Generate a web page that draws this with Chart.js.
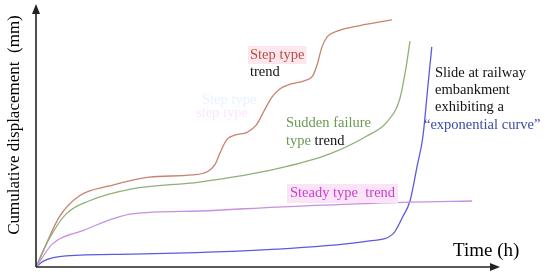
<!DOCTYPE html>
<html>
<head>
<meta charset="utf-8">
<style>
html,body{margin:0;padding:0;background:#fff;}
</style>
<script src="https://cdn.jsdelivr.net/npm/chart.js@4.4.1/dist/chart.umd.min.js"></script>
</head>
<body>
<canvas id="c" width="550" height="275"></canvas>
<script>
// Time (h) on x, cumulative displacement (mm) on y, both in relative units 0-100
const stepX = [0, 1.7, 5.0, 9.3, 15.8, 24.4, 33.7, 37.0, 38.6, 39.8, 41.2, 43.0, 45.5, 47.5, 49.2, 50.8, 52.6, 55.0, 57.8, 59.6, 60.6, 61.6, 62.8, 64.8, 69.8, 76.7];
const stepY = [0, 6.8, 19.0, 27.0, 30.8, 34.2, 35.0, 36.3, 39.0, 44.0, 48.6, 50.2, 51.2, 54.0, 59.5, 64.5, 67.8, 69.6, 70.8, 72.6, 77.0, 83.5, 87.6, 89.6, 91.8, 94.0];
const suddenX = [0, 2.8, 6.5, 11.4, 20.7, 35.2, 51.8, 63.3, 71.3, 75.6, 78.4, 79.7, 80.6];
const suddenY = [0, 10.6, 20.2, 25.1, 29.7, 32.3, 37.3, 43.0, 49.8, 55.1, 63.9, 75.3, 85.9];
const steadyX = [0, 3.5, 9.9, 20.7, 35.2, 51.8, 80.6, 94.0];
const steadyY = [0, 8.7, 13.7, 20.2, 21.3, 22.8, 24.7, 25.1];
const expoX = [0, 1.7, 6.5, 20.7, 51.8, 71.9, 76.9, 79.0, 80.6, 82.1, 83.4, 84.4, 85.3];
const expoY = [0, 2.3, 4.2, 4.9, 6.8, 9.9, 12.5, 19.0, 25.1, 38.0, 49.8, 67.7, 83.7];

const xTitle = 'Time (h)';
const yTitle = 'Cumulative displacement  (mm)';

function pts(xs, ys){ return xs.map((x,i)=>({x:x, y:ys[i]})); }

const FONT_XTITLE = '19px "Liberation Serif"';
const FONT_YTITLE = '17px "Liberation Serif"';
const FONT_LABEL = '14.5px "Liberation Serif"';

const axesPlugin = {
  id: 'axesArrows',
  afterDatasetsDraw(chart){
    const ctx = chart.ctx, a = chart.chartArea;
    ctx.save();
    ctx.strokeStyle = '#222'; ctx.fillStyle = '#222'; ctx.lineWidth = 1.6;
    ctx.beginPath(); ctx.moveTo(a.left, a.bottom); ctx.lineTo(a.left, a.top + 6); ctx.stroke();
    ctx.beginPath(); ctx.moveTo(a.left, a.top); ctx.lineTo(a.left - 4, a.top + 10); ctx.lineTo(a.left + 4, a.top + 10); ctx.closePath(); ctx.fill();
    ctx.beginPath(); ctx.moveTo(a.left, a.bottom); ctx.lineTo(a.right - 6, a.bottom); ctx.stroke();
    ctx.beginPath(); ctx.moveTo(a.right, a.bottom); ctx.lineTo(a.right - 10, a.bottom - 4); ctx.lineTo(a.right - 10, a.bottom + 4); ctx.closePath(); ctx.fill();
    ctx.fillStyle = '#000';
    ctx.font = FONT_XTITLE;
    ctx.textBaseline = 'middle';
    ctx.textAlign = 'left';
    ctx.fillText(xTitle, 453, 251);
    ctx.font = FONT_YTITLE;
    ctx.translate(15, 125);
    ctx.rotate(-Math.PI/2);
    ctx.textAlign = 'center';
    ctx.fillText(yTitle, 0, 0);
    ctx.restore();
  }
};

const labelPlugin = {
  id: 'annotTexts',
  afterDatasetsDraw(chart){
    const ctx = chart.ctx;
    ctx.save();
    ctx.font = FONT_LABEL;
    ctx.textBaseline = 'middle';
    ctx.textAlign = 'left';
    ctx.fillStyle = 'rgba(190,225,255,0.4)';
    ctx.fillText('Step type', 202, 100);
    ctx.fillStyle = 'rgba(235,185,245,0.35)';
    ctx.fillText('step type', 196, 113);
    let w = ctx.measureText('Step type').width;
    ctx.fillStyle = '#fde6ee';
    ctx.fillRect(248, 46, w + 4, 18);
    ctx.fillStyle = '#b4503f';
    ctx.fillText('Step type', 250, 55);
    ctx.fillStyle = '#111';
    ctx.fillText('trend', 250, 72);
    ctx.fillStyle = '#6c9a52';
    ctx.fillText('Sudden failure', 286, 123);
    ctx.fillText('type', 286, 141);
    const tw = ctx.measureText('type ').width;
    ctx.fillStyle = '#111';
    ctx.fillText('trend', 286 + tw, 141);
    w = ctx.measureText('Steady type  trend').width;
    ctx.fillStyle = '#fce4f8';
    ctx.fillRect(287, 184, w + 6, 19);
    ctx.fillStyle = '#c93fcc';
    ctx.fillText('Steady type  trend', 290, 193);
    ctx.fillStyle = '#111';
    ctx.fillText('Slide at railway', 435, 73);
    ctx.fillText('embankment', 435, 90);
    ctx.fillText('exhibiting a', 435, 107);
    ctx.fillStyle = '#3a4ba8';
    ctx.fillText('\u201Cexponential curve\u201D', 424, 125);
    ctx.restore();
  }
};

const common = { showLine: true, pointRadius: 0, borderWidth: 1.3, fill: false, cubicInterpolationMode: 'monotone' };

new Chart(document.getElementById('c'), {
  type: 'scatter',
  data: {
    datasets: [
      Object.assign({ label: 'Steady', data: pts(steadyX, steadyY), borderColor: '#c690e2' }, common),
      Object.assign({ label: 'Sudden', data: pts(suddenX, suddenY), borderColor: '#8fb07a' }, common),
      Object.assign({ label: 'Step', data: pts(stepX, stepY), borderColor: '#c8826e' }, common),
      Object.assign({ label: 'Exponential', data: pts(expoX, expoY), borderColor: '#5b5be0' }, common)
    ]
  },
  options: {
    responsive: false,
    animation: false,
    layout: { padding: { left: 36, right: 50, top: 4, bottom: 8 } },
    plugins: { legend: { display: false }, tooltip: { enabled: false } },
    scales: {
      x: { type: 'linear', min: 0, max: 100, display: false },
      y: { type: 'linear', min: 0, max: 100, display: false }
    }
  },
  plugins: [axesPlugin, labelPlugin]
});
</script>
</body>
</html>
